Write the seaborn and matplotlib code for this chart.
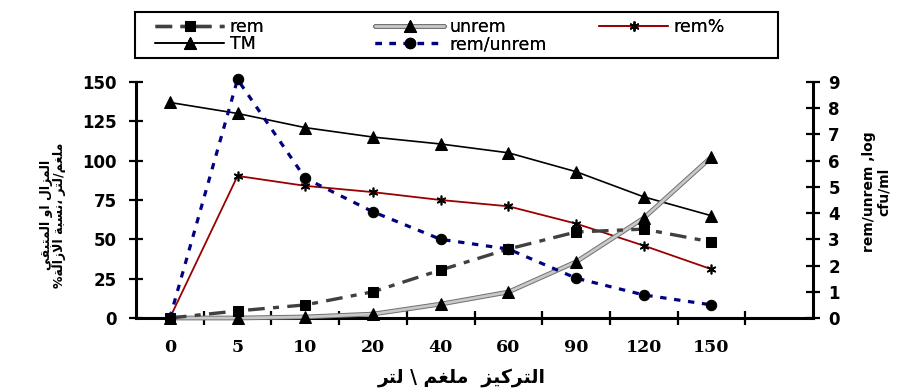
import matplotlib
matplotlib.use("Agg")
import matplotlib.pyplot as plt
import matplotlib.patheffects as pe
from matplotlib.patches import Rectangle
import numpy as np
import pandas as pd
import seaborn as sns

# concentration categories (mg/L)
conc = ["0", "5", "10", "20", "40", "60", "90", "120", "150"]

# left axis (%, mg/L)
tm = [137, 130, 121, 115, 110.6, 105, 93, 77, 65]
rem_pct = [0, 90.3, 84, 80, 75, 71, 60, 46, 31]

# right axis (log cfu/ml)
rem = [0, 0.27, 0.5, 1.0, 1.83, 2.63, 3.28, 3.39, 2.9]
unrem = [0, 0.0, 0.04, 0.15, 0.53, 0.99, 2.14, 3.81, 6.14]
rem_unrem = [0, 9.1, 5.33, 4.05, 3.0, 2.63, 1.52, 0.88, 0.5]

left_ticks = [0, 25, 50, 75, 100, 125, 150]
right_ticks = list(range(10))

xlabel_ar = "التركيز  ملغم \\ لتر"
ylabel_ar = "المزال او المتبقي\nملغم/لتر ،نسبة الازالة%"
ylabel_right = "rem/unrem ,log\ncfu/ml"

# Arabic presentation forms: isolated, final, initial, medial
AR_FORMS = {
    "ا": ("\uFE8D", "\uFE8E", None, None),
    "ب": ("\uFE8F", "\uFE90", "\uFE91", "\uFE92"),
    "ة": ("\uFE93", "\uFE94", None, None),
    "ت": ("\uFE95", "\uFE96", "\uFE97", "\uFE98"),
    "ر": ("\uFEAD", "\uFEAE", None, None),
    "ز": ("\uFEAF", "\uFEB0", None, None),
    "س": ("\uFEB1", "\uFEB2", "\uFEB3", "\uFEB4"),
    "غ": ("\uFECD", "\uFECE", "\uFECF", "\uFED0"),
    "ق": ("\uFED5", "\uFED6", "\uFED7", "\uFED8"),
    "ك": ("\uFED9", "\uFEDA", "\uFEDB", "\uFEDC"),
    "ل": ("\uFEDD", "\uFEDE", "\uFEDF", "\uFEE0"),
    "م": ("\uFEE1", "\uFEE2", "\uFEE3", "\uFEE4"),
    "ن": ("\uFEE5", "\uFEE6", "\uFEE7", "\uFEE8"),
    "و": ("\uFEED", "\uFEEE", None, None),
    "ي": ("\uFEF1", "\uFEF2", "\uFEF3", "\uFEF4"),
}


def shape_line(text):
    # matplotlib has no Arabic shaping / RTL, so do it by hand
    out = []
    i = 0
    while i < len(text):
        c = text[i]
        if c not in AR_FORMS:
            out.append(c)
            i += 1
            continue
        prev = text[i - 1] if i > 0 else ""
        joins_prev = prev in AR_FORMS and AR_FORMS[prev][2] is not None
        if c == "ل" and i + 1 < len(text) and text[i + 1] == "ا":
            out.append("\uFEFC" if joins_prev else "\uFEFB")
            i += 2
            continue
        nxt = text[i + 1] if i + 1 < len(text) else ""
        joins_next = AR_FORMS[c][2] is not None and nxt in AR_FORMS
        iso, fin, ini, med = AR_FORMS[c]
        if joins_prev and joins_next:
            out.append(med)
        elif joins_prev:
            out.append(fin)
        elif joins_next:
            out.append(ini)
        else:
            out.append(iso)
        i += 1
    return "".join(reversed(out))


def shape_ar(text):
    return "\n".join(shape_line(l) for l in text.split("\n"))


df = pd.DataFrame({
    "pos": np.arange(len(conc)),
    "TM": tm,
    "rem%": rem_pct,
    "rem": rem,
    "unrem": unrem,
    "rem/unrem": rem_unrem,
})

sns.set_theme(style="white")
plt.rcParams["font.family"] = ["DejaVu Sans"]
plt.rcParams["text.color"] = "black"
plt.rcParams["xtick.color"] = "black"
plt.rcParams["ytick.color"] = "black"

fig = plt.figure(figsize=(9.1, 3.88), dpi=100)
ax = fig.add_axes([136 / 910, 1 - 318 / 388, 677 / 910, 236 / 388])
ax2 = ax.twinx()

# left axis series
sns.lineplot(data=df, x="pos", y="TM", ax=ax, color="black", lw=1.2,
             marker="^", markersize=8.5, mfc="black", mec="black",
             legend=False, label="TM", clip_on=False, zorder=4)
sns.lineplot(data=df, x="pos", y="rem%", ax=ax, color="#990000", lw=1.3,
             marker=(6, 2, 0), markersize=7, mfc="black", mec="black", mew=1.2,
             legend=False, label="rem%", clip_on=False, zorder=4)

# right axis series
sns.lineplot(data=df, x="pos", y="unrem", ax=ax2, color="#c8c8c8", lw=2.0,
             path_effects=[pe.Stroke(linewidth=3.4, foreground="#707070"), pe.Normal()],
             legend=False, label="unrem_line", clip_on=False, zorder=3)
sns.lineplot(data=df, x="pos", y="unrem", ax=ax2, linestyle="none",
             marker="^", markersize=8.5, mfc="black", mec="black",
             legend=False, label="unrem_pts", clip_on=False, zorder=3.5)
sns.lineplot(data=df, x="pos", y="rem", ax=ax2, color="#404040", lw=2.4,
             linestyle=(0, (5, 2.5, 1.8, 2.5)),
             marker="s", markersize=7, mfc="black", mec="black",
             legend=False, label="rem", clip_on=False, zorder=4)
sns.lineplot(data=df, x="pos", y="rem/unrem", ax=ax2, color="#000080", lw=2.3,
             linestyle=(0, (2.0, 2.4)),
             marker="o", markersize=7.5, mfc="black", mec="black",
             legend=False, label="rem/unrem", clip_on=False, zorder=5)

# axes limits and ticks
ax.set_xlim(-0.5, 9.5)
ax.set_ylim(0, 150)
ax2.set_ylim(0, 9)
ax.set_xticks(range(len(conc)))
ax.set_xticklabels(conc, fontfamily="DejaVu Serif", fontweight="bold", fontsize=12.5)
ax.set_xticks(np.arange(0.5, len(conc), 1), minor=True)
ax.tick_params(axis="x", which="major", length=0, pad=15)
ax.tick_params(axis="x", which="minor", direction="inout", length=10, width=1.6,
               color="black", bottom=True)
ax.set_yticks(left_ticks)
ax.set_yticklabels([str(t) for t in left_ticks], fontweight="bold", fontsize=12)
ax.tick_params(axis="y", direction="inout", length=10, width=1.6, color="black",
               left=True, pad=9)
ax2.set_yticks(right_ticks)
ax2.set_yticklabels([str(t) for t in right_ticks], fontweight="bold", fontsize=12)
ax2.tick_params(axis="y", direction="inout", length=10, width=1.6, color="black",
                right=True, pad=6)
ax.set_xlabel("")
ax.set_ylabel("")
ax2.set_ylabel("")

for a in (ax, ax2):
    a.spines["top"].set_visible(False)
    for s in a.spines.values():
        s.set_color("black")
        s.set_linewidth(2.2)
ax.spines["right"].set_visible(False)
ax2.spines["left"].set_visible(False)
ax2.spines["bottom"].set_visible(False)
ax.set_facecolor("none")

# axis titles
fig.text(0.508, 0.026, shape_ar(xlabel_ar), ha="center", va="center",
         fontsize=13.5, fontweight="bold")
fig.text(0.058, 0.445, shape_ar(ylabel_ar), ha="center", va="center",
         rotation=90, fontsize=9, fontweight="bold", linespacing=1.05)
fig.text(0.963, 0.505, ylabel_right, ha="center", va="center",
         rotation=90, fontsize=10, fontweight="bold", linespacing=1.1)

# legend: framed box with three columns
handles = {l.get_label(): l for l in ax.lines + ax2.lines}
handles["unrem"] = (handles["unrem_line"], handles["unrem_pts"])
fig.add_artist(Rectangle((135 / 910, 1 - 58 / 388), 643 / 910, 46 / 388,
                         transform=fig.transFigure, fill=False,
                         edgecolor="black", lw=1.5))
leg_kw = dict(frameon=False, fontsize=12.5, handlelength=4.0, handletextpad=0.3,
              labelspacing=-0.05, borderpad=0, borderaxespad=0, numpoints=1,
              loc="center left")
columns = [(["rem", "TM"], 155, 35.5), (["unrem", "rem/unrem"], 375, 35.5),
           (["rem%"], 599, 27)]
for names, x0, yc in columns:
    lg = fig.legend([handles[n] for n in names], names,
                    bbox_to_anchor=(x0 / 910, 1 - yc / 388), **leg_kw)
    fig.add_artist(lg)

fig.savefig("out.png", dpi=100)
